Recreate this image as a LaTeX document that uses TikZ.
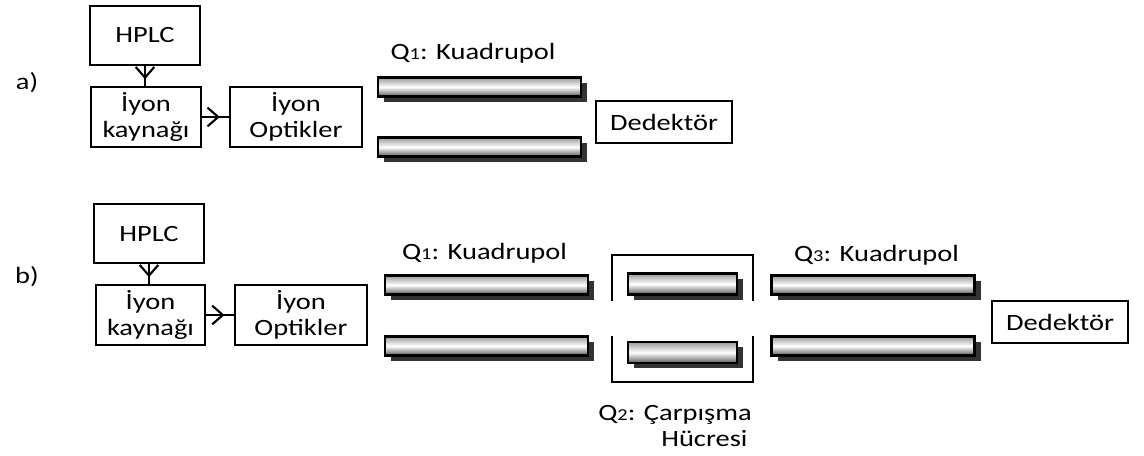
\documentclass[tikz,border=0pt]{standalone}
\usepackage{fontspec}
\setmainfont{Carlito}[FakeStretch=1.22]
\usepackage{tikz}
\usetikzlibrary{arrows.meta,decorations.markings,shadows}
\tikzset{>=stealth}
\newcommand{\qidx}[1]{{\fontsize{12.5}{12.5}\selectfont #1}}
\tikzset{%
    box/.style={draw,line width=1.4pt,minimum width=#1,minimum height=45pt,
        inner sep=0pt,align=center},
    rod/.style={draw,line width=1.8pt,minimum width=152.25pt,minimum height=14.25pt,
        inner sep=0pt,top color=black!40,bottom color=black!65,middle color=white,
        drop shadow={shadow xshift=4.5pt,shadow yshift=-3.75pt,fill=black!80,opacity=1}},
    cellrod/.style={rod,minimum width=81.75pt,minimum height=15.75pt},
    midarrow/.style={line width=1.6pt,decoration={markings,
        mark=at position 0.66 with {\arrow[line width=1.6pt]{Straight Barb[length=8pt,width=14pt]}}},
        postaction={decorate}}
}

\begin{document}
\begin{tikzpicture}[x=0.75pt,y=-0.75pt,font=\fontsize{17.5}{20}\selectfont]
    \useasboundingbox (0,0) rectangle (1144,455);
    % a)
    \node (labA) at (27,83) {a)};
    \node[box=82.5pt,minimum height=44.25pt] (hplcA) at (145,35.5) {HPLC};
    \node[box=82.5pt] (srcA) at (146,117) {İyon\\kaynağı};
    \node[box=99pt] (optA) at (296,117) {İyon\\Optikler};
    \node (q1A) at (473,53) {Q\qidx{1}: Kuadrupol};
    \node[rod] (q1Aup) at (479.5,87) {};
    \node[rod] (q1Adn) at (479.5,147) {};
    \node[box=102pt,minimum height=31.5pt] (detA) at (664,122) {Dedektör};
    \draw[midarrow] (hplcA.south) -- (hplcA.south |- srcA.north);
    \draw[midarrow] (srcA) -- (optA);

    % b)
    \node (labB) at (27,277) {b)};
    \node[box=82.5pt,minimum height=44.25pt] (hplcB) at (149,233.5) {HPLC};
    \node[box=81.75pt] (srcB) at (150.5,315) {İyon\\kaynağı};
    \node[box=99pt] (optB) at (301,315) {İyon\\Optikler};
    \node (q1B) at (484.5,253) {Q\qidx{1}: Kuadrupol};
    \node[rod] (q1Bup) at (486.5,285) {};
    \node[rod] (q1Bdn) at (486.5,346) {};
    \node[cellrod] (q2Bup) at (682.5,284) {};
    \node[cellrod] (q2Bdn) at (682.5,352.5) {};
    \draw[line width=1.1pt] (612,301) |- (753,255) -- (753,301);
    \draw[line width=1.1pt] (612,336) |- (753,382) -- (753,336);
    \node[align=left] (q2B) at (675,426) {Q\qidx{2}: Çarpışma\\\hspace*{2.7em}Hücresi};
    \node (q3B) at (876.5,255) {Q\qidx{3}: Kuadrupol};
    \node[rod] (q3Bup) at (873,285) {};
    \node[rod] (q3Bdn) at (873,346) {};
    \node[box=102pt,minimum height=31.5pt] (detB) at (1060,322) {Dedektör};
    \draw[midarrow] (hplcB.south) -- (hplcB.south |- srcB.north);
    \draw[midarrow] (srcB) -- (optB);
\end{tikzpicture}
\end{document}
